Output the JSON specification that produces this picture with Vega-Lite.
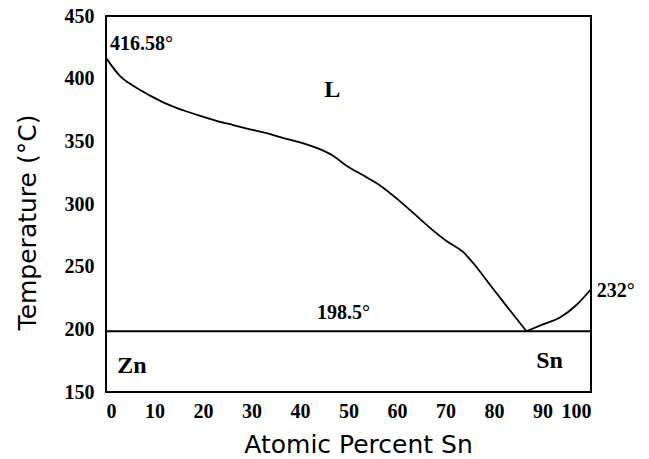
{
  "$schema": "https://vega.github.io/schema/vega-lite/v6.json",
  "autosize": "none",
  "width": 485,
  "height": 376,
  "padding": {"left": 106, "top": 16, "right": 58, "bottom": 67},
  "background": "white",
  "config": {
    "view": {"stroke": "black", "strokeWidth": 2},
    "axis": {
      "grid": false,
      "domain": false,
      "ticks": false,
      "labelFont": "Liberation Serif",
      "labelFontWeight": "bold",
      "labelFontSize": 20,
      "labelColor": "black",
      "titleFont": "DejaVu Sans",
      "titleFontWeight": "normal",
      "titleColor": "black"
    }
  },
  "datasets": {
    "liquidus": [
      {"sn": 0, "temp": 416.58},
      {"sn": 2.9, "temp": 402.1},
      {"sn": 5.6, "temp": 394.3},
      {"sn": 9.1, "temp": 386.5},
      {"sn": 12.5, "temp": 379.9},
      {"sn": 15.9, "temp": 374.8},
      {"sn": 19.4, "temp": 370.3},
      {"sn": 22.8, "temp": 366.4},
      {"sn": 26.2, "temp": 363.0},
      {"sn": 29.7, "temp": 359.6},
      {"sn": 33.1, "temp": 356.5},
      {"sn": 36.6, "temp": 352.6},
      {"sn": 40.0, "temp": 349.2},
      {"sn": 43.4, "temp": 344.8},
      {"sn": 46.9, "temp": 338.3},
      {"sn": 49.6, "temp": 330.5},
      {"sn": 53.1, "temp": 322.7},
      {"sn": 56.5, "temp": 314.8},
      {"sn": 59.9, "temp": 304.5},
      {"sn": 63.4, "temp": 292.7},
      {"sn": 66.8, "temp": 281.0},
      {"sn": 70.2, "temp": 270.5},
      {"sn": 73.7, "temp": 261.5},
      {"sn": 75.7, "temp": 252.9},
      {"sn": 79.2, "temp": 235.4},
      {"sn": 82.6, "temp": 218.5},
      {"sn": 86.7, "temp": 198.5}
    ],
    "snside": [
      {"sn": 86.7, "temp": 198.5},
      {"sn": 90.2, "temp": 204.1},
      {"sn": 93.6, "temp": 209.4},
      {"sn": 97.1, "temp": 219.8},
      {"sn": 100, "temp": 232}
    ],
    "eutectic": [
      {"sn": 0, "temp": 198.5},
      {"sn": 100, "temp": 198.5}
    ],
    "xticks": [
      {"sn": 10}, {"sn": 20}, {"sn": 30}, {"sn": 40}, {"sn": 50},
      {"sn": 60}, {"sn": 70}, {"sn": 80}, {"sn": 90}
    ],
    "yticks": [
      {"temp": 200}, {"temp": 250}, {"temp": 300}, {"temp": 350}, {"temp": 400}
    ],
    "labels": [
      {"sn": 0.8, "temp": 428, "text": "416.58°", "size": 20},
      {"sn": 45, "temp": 391, "text": "L", "size": 24},
      {"sn": 43.5, "temp": 213, "text": "198.5°", "size": 20},
      {"sn": 101.2, "temp": 230.5, "text": "232°", "size": 20},
      {"sn": 2.3, "temp": 171, "text": "Zn", "size": 24},
      {"sn": 88.7, "temp": 174.7, "text": "Sn", "size": 24}
    ]
  },
  "encoding": {
    "x": {
      "field": "sn",
      "type": "quantitative",
      "scale": {"domain": [0, 100], "nice": false},
      "axis": {
        "title": "Atomic Percent Sn",
        "titleFontSize": 25,
        "values": [0, 10, 20, 30, 40, 50, 60, 70, 80, 90, 100],
        "labelPadding": 9,
        "titleX": 252,
        "titleY": 52,
        "titleBaseline": "middle"
      }
    },
    "y": {
      "field": "temp",
      "type": "quantitative",
      "scale": {"domain": [150, 450], "nice": false, "zero": false},
      "axis": {
        "title": "Temperature (°C)",
        "titleFontSize": 25,
        "values": [150, 200, 250, 300, 350, 400, 450],
        "labelPadding": 12,
        "titleX": -79,
        "titleY": 206,
        "titleBaseline": "middle",
        "titleAlign": "center",
        "titleAngle": -90
      }
    }
  },
  "layer": [
    {
      "data": {"name": "eutectic"},
      "mark": {"type": "line", "color": "black", "strokeWidth": 2}
    },
    {
      "data": {"name": "liquidus"},
      "mark": {"type": "line", "color": "black", "strokeWidth": 1.8, "interpolate": "monotone"}
    },
    {
      "data": {"name": "snside"},
      "mark": {"type": "line", "color": "black", "strokeWidth": 1.8, "interpolate": "monotone"}
    },
    {
      "data": {"name": "xticks"},
      "mark": {"type": "tick", "orient": "vertical", "color": "black", "opacity": 1, "size": 7, "thickness": 2},
      "encoding": {"y": {"datum": 152.8}}
    },
    {
      "data": {"name": "yticks"},
      "mark": {"type": "tick", "orient": "horizontal", "color": "black", "opacity": 1, "size": 7, "thickness": 2},
      "encoding": {"x": {"datum": 0.72}}
    },
    {
      "data": {"name": "labels"},
      "mark": {"type": "text", "align": "left", "baseline": "middle", "font": "Liberation Serif", "fontWeight": "bold", "color": "black"},
      "encoding": {
        "text": {"field": "text"},
        "size": {"field": "size", "type": "quantitative", "scale": null}
      }
    }
  ]
}
